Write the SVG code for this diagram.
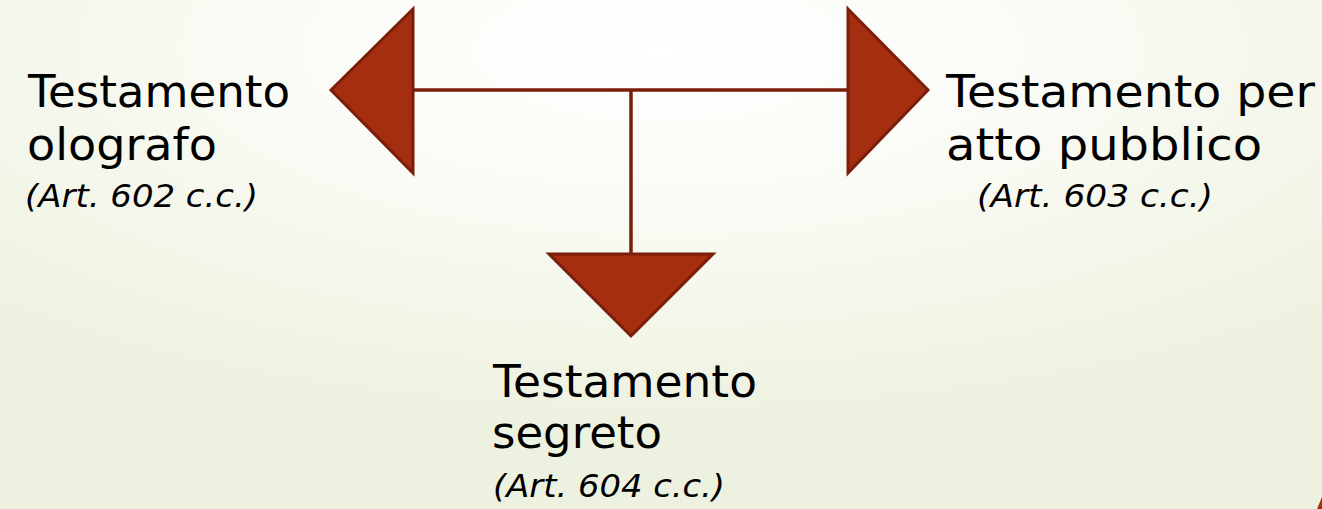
<svg xmlns="http://www.w3.org/2000/svg" width="1322" height="509" viewBox="0 0 1322 509">
  <defs>
    <radialGradient id="bg" cx="50%" cy="10%" r="75%" gradientUnits="objectBoundingBox">
      <stop offset="0" stop-color="#ffffff"/>
      <stop offset="0.4" stop-color="#fafbf5"/>
      <stop offset="1" stop-color="#edf1df"/>
    </radialGradient>
    <style>
      .arrow { fill: #a52e10; stroke: #7a1e0a; stroke-width: 3; stroke-linejoin: miter; }
      .conn { stroke: #7a1e0a; stroke-width: 3.5; fill: none; }
      .t { font-family: "DejaVu Sans", "Liberation Sans", sans-serif; font-size: 44px; fill: #000000; }
      .s { font-family: "DejaVu Sans", "Liberation Sans", sans-serif; font-size: 32px; font-style: italic; fill: #000000; }
    </style>
  </defs>
  <rect x="0" y="0" width="1322" height="509" fill="url(#bg)"/>

  <g id="connectors">
    <line class="conn" x1="413" y1="90" x2="848" y2="90"/>
    <line class="conn" x1="631" y1="90" x2="631" y2="254"/>
  </g>

  <g id="node-olografo">
    <polygon class="arrow" points="331,90 413,9 413,173"/>
    <text class="t" x="28" y="107" textLength="262" lengthAdjust="spacingAndGlyphs">Testamento</text>
    <text class="t" x="27" y="160" textLength="190" lengthAdjust="spacingAndGlyphs">olografo</text>
    <text class="s" x="25" y="207" textLength="233" lengthAdjust="spacingAndGlyphs">(Art. 602 c.c.)</text>
  </g>

  <g id="node-pubblico">
    <polygon class="arrow" points="848,9 928,90 848,173"/>
    <text class="t" x="946" y="107" textLength="369" lengthAdjust="spacingAndGlyphs">Testamento per</text>
    <text class="t" x="946" y="160" textLength="316" lengthAdjust="spacingAndGlyphs">atto pubblico</text>
    <text class="s" x="977" y="207" textLength="236" lengthAdjust="spacingAndGlyphs">(Art. 603 c.c.)</text>
  </g>

  <g id="node-segreto">
    <polygon class="arrow" points="549,254 713,254 631,336"/>
    <text class="t" x="493" y="397" textLength="264" lengthAdjust="spacingAndGlyphs">Testamento</text>
    <text class="t" x="492" y="448" textLength="170" lengthAdjust="spacingAndGlyphs">segreto</text>
    <text class="s" x="493" y="497" textLength="232" lengthAdjust="spacingAndGlyphs">(Art. 604 c.c.)</text>
  </g>

  <polygon points="1322,497 1317,509 1322,509" fill="#a52e10"/>
</svg>
